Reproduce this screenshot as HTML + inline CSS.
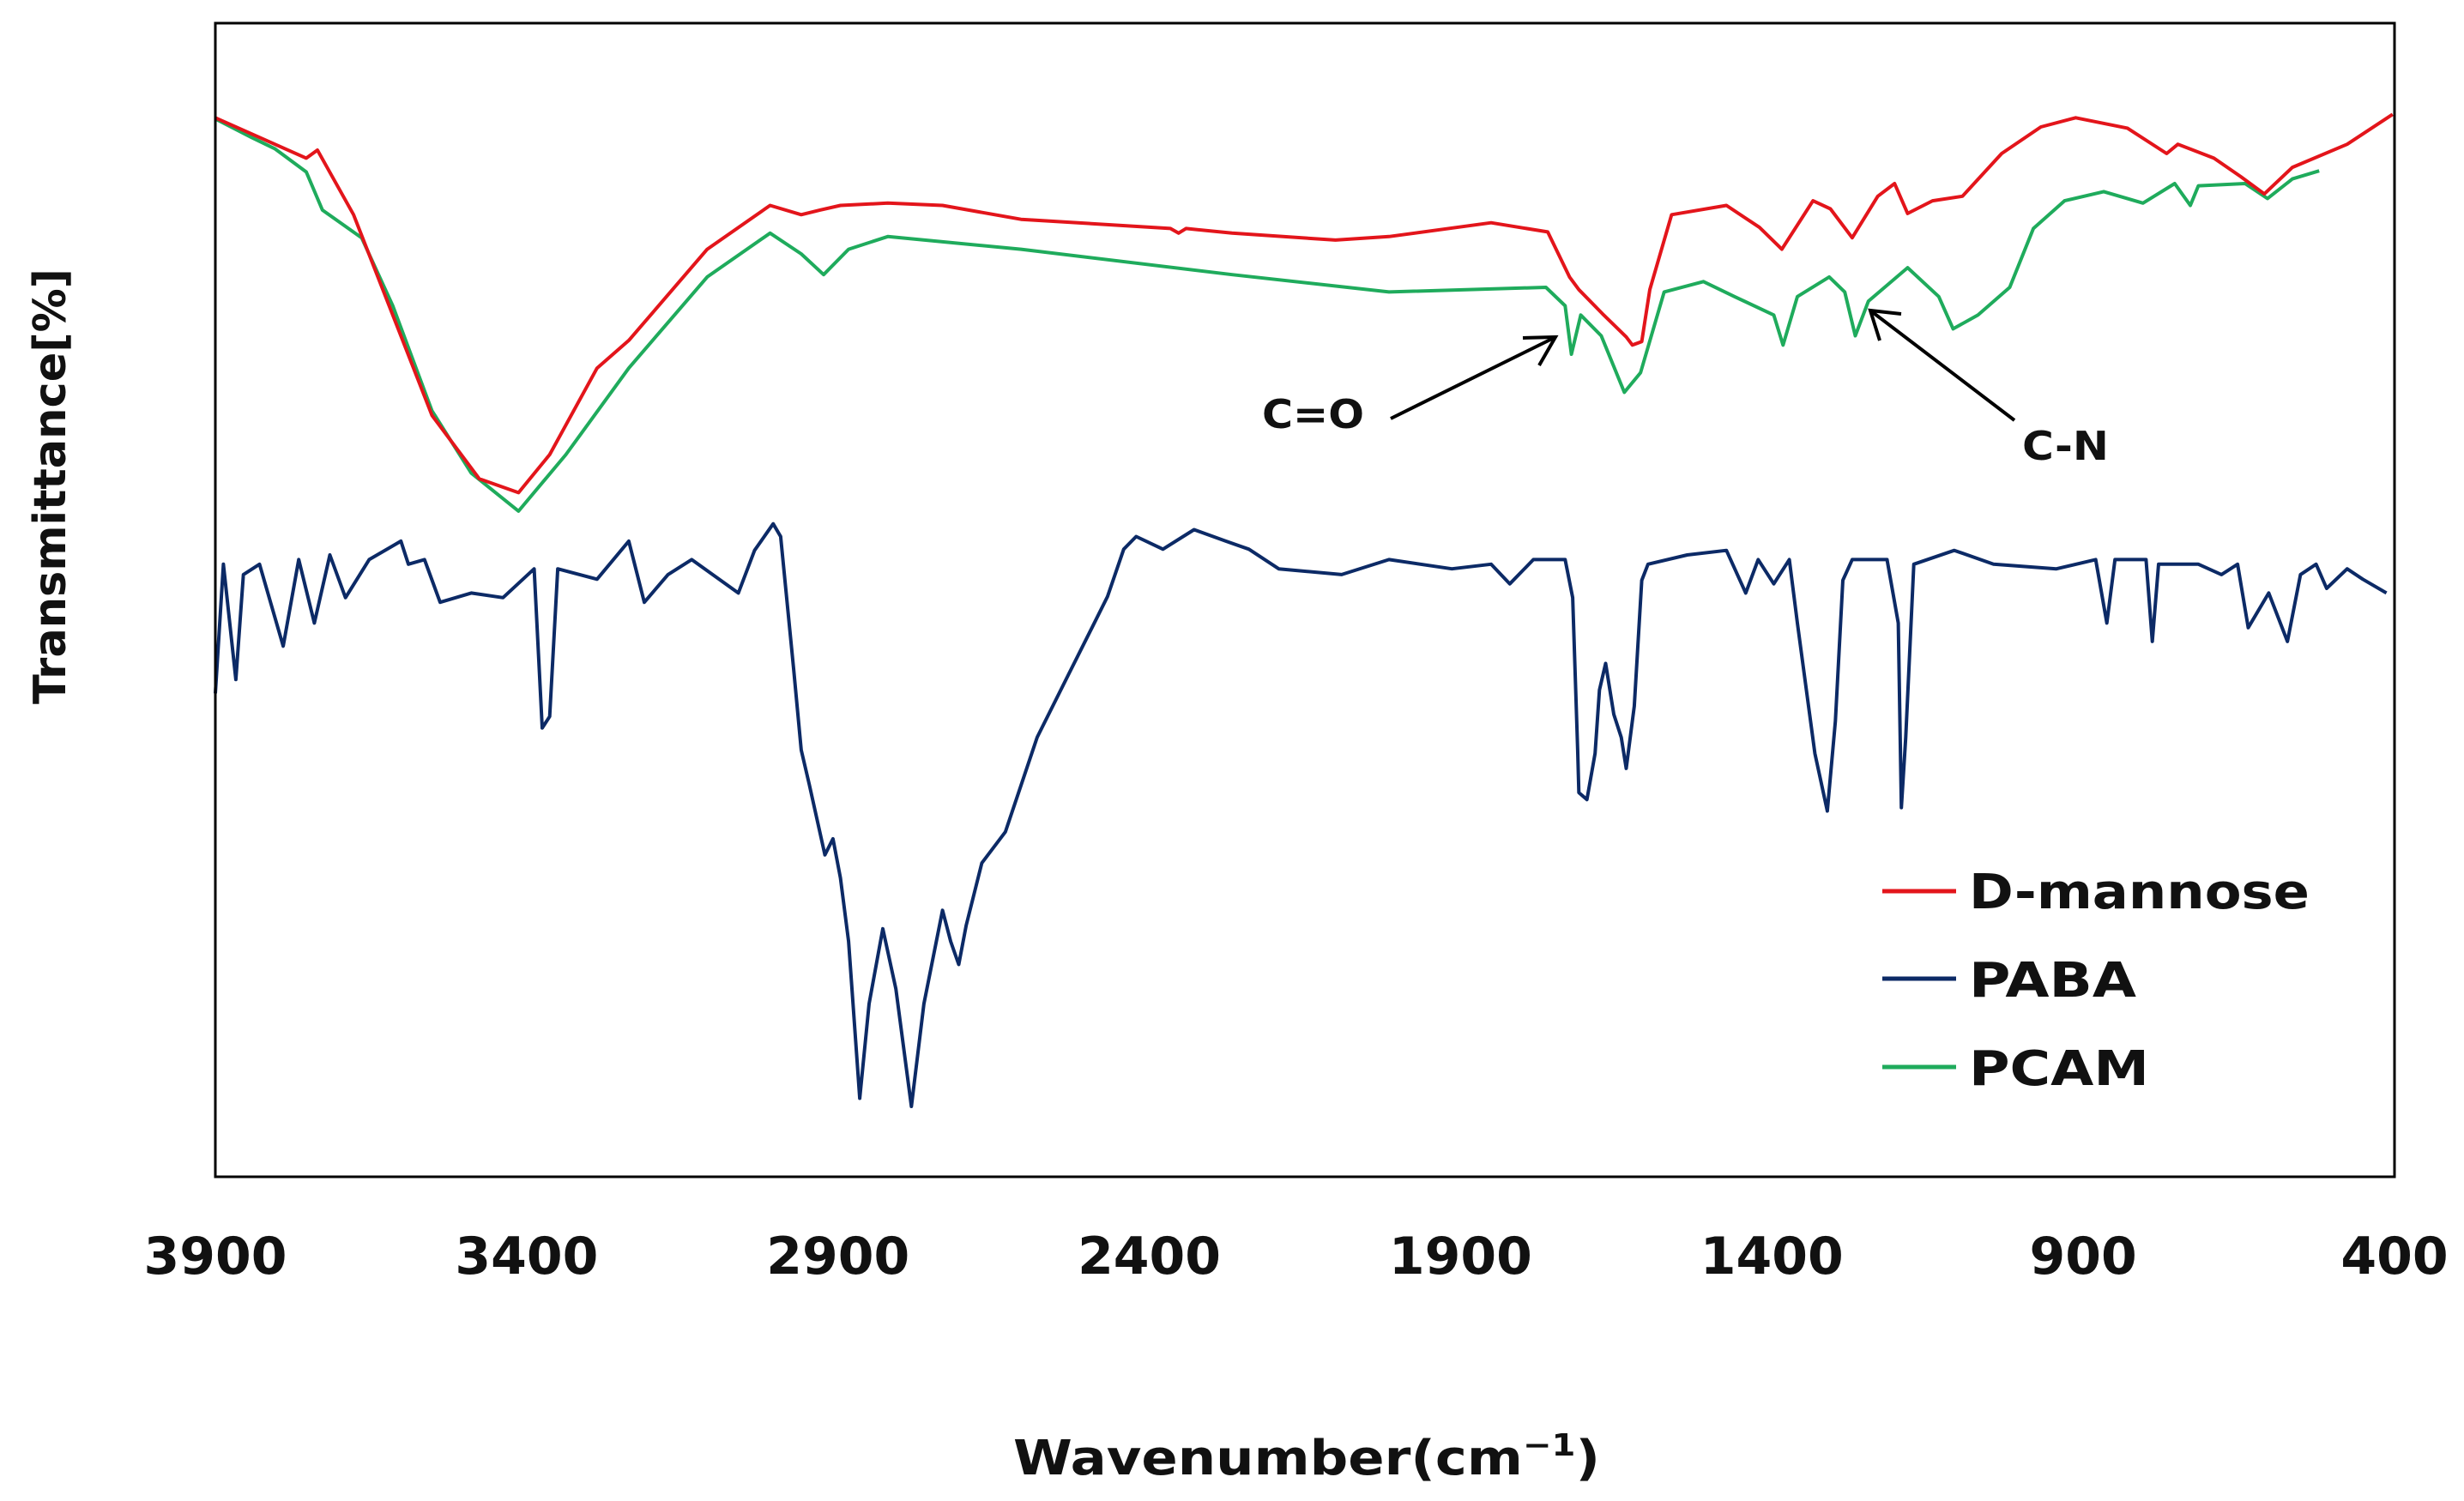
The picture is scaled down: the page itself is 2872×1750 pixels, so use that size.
<!DOCTYPE html>
<html><head><meta charset="utf-8"><style>
html,body{margin:0;padding:0;background:#fff;}
svg{display:block;}
text{font-family:"DejaVu Sans","Liberation Sans",sans-serif;font-weight:bold;fill:#111;}
</style></head>
<body>
<svg id="chart" width="2872" height="1750" viewBox="0 0 2872 1750" xmlns="http://www.w3.org/2000/svg">
<rect x="0" y="0" width="2872" height="1750" fill="#fff"/>
<g id="series"></g>
<rect x="251" y="27" width="2540" height="1345" fill="none" stroke="#000" stroke-width="3"/>
<g id="ticks"></g>
<text x="59" y="567" transform="rotate(-90 59 567)" text-anchor="middle" dominant-baseline="central" font-size="52" textLength="508" lengthAdjust="spacingAndGlyphs">Transmittance[%]</text>
<text x="1523" y="1719" text-anchor="middle" font-size="56" textLength="684" lengthAdjust="spacingAndGlyphs">Wavenumber(cm<tspan font-size="36" dy="-22">−1</tspan><tspan dy="22">)</tspan></text>
<g>
<text x="1471" y="499" font-size="46" textLength="119" lengthAdjust="spacingAndGlyphs">C=O</text>
<line x1="1621" y1="488" x2="1813" y2="393" stroke="#000" stroke-width="4"/>
<polyline points="1775,394 1813,393 1794,426" fill="none" stroke="#000" stroke-width="4"/>
</g>
<g>
<text x="2357" y="536" font-size="46" textLength="101" lengthAdjust="spacingAndGlyphs">C-N</text>
<line x1="2348" y1="490" x2="2180" y2="362" stroke="#000" stroke-width="4"/>
<polyline points="2191,397 2180,362 2216,366" fill="none" stroke="#000" stroke-width="4"/>
</g>
<g>
<line x1="2194" y1="1039" x2="2280" y2="1039" stroke="#e3151b" stroke-width="5"/>
<text x="2295" y="1059" font-size="56" textLength="397" lengthAdjust="spacingAndGlyphs">D-mannose</text>
<line x1="2194" y1="1141" x2="2280" y2="1141" stroke="#0c2a66" stroke-width="5"/>
<text x="2295" y="1162" font-size="56" textLength="195" lengthAdjust="spacingAndGlyphs">PABA</text>
<line x1="2194" y1="1244" x2="2280" y2="1244" stroke="#1fab5c" stroke-width="5"/>
<text x="2295" y="1265" font-size="56" textLength="210" lengthAdjust="spacingAndGlyphs">PCAM</text>
</g>
</svg>
<script>
const xTicks = [3900, 3400, 2900, 2400, 1900, 1400, 900, 400];
const xTickLabels = ["3900", "3400", "2900", "2400", "1900", "1400", "900", "400"];
const mannoseWn = [3900,3754,3736,3678,3552,3476,3413,3363,3287,3236,3110,3009,2959,2929,2896,2820,2732,2606,2366,2353,2341,2267,2101,2015,1851,1760,1725,1710,1672,1634,1624,1609,1596,1561,1473,1420,1384,1334,1306,1271,1230,1203,1182,1142,1094,1031,968,912,829,766,748,690,647,609,564,476,403];
const mannoseT = [91.8,88.3,89.0,83.4,66.0,60.5,59.3,62.6,70.1,72.5,80.4,84.2,83.4,83.8,84.2,84.4,84.2,83.0,82.2,81.8,82.2,81.8,81.2,81.5,82.7,81.9,78.0,76.9,74.8,72.8,72.1,72.4,76.9,83.4,84.2,82.3,80.4,84.6,83.9,81.4,85.0,86.1,83.5,84.6,85.0,88.7,91.0,91.8,90.9,88.7,89.5,88.3,86.7,85.2,87.5,89.5,92.1];
const pcamWn = [3900,3842,3804,3754,3728,3665,3615,3552,3489,3413,3337,3236,3110,3009,2959,2923,2883,2820,2606,2267,2015,1763,1732,1722,1707,1674,1637,1611,1573,1510,1460,1397,1382,1359,1308,1283,1266,1245,1182,1132,1109,1069,1018,980,930,867,804,753,728,715,640,604,564,521];
const pcamT = [91.7,90.1,89.1,87.1,83.8,81.4,75.5,66.4,61.0,57.7,62.6,70.1,78.0,81.8,80.0,78.2,80.4,81.5,80.4,78.2,76.7,77.1,75.5,71.3,74.7,72.9,68.0,69.7,76.7,77.6,76.3,74.7,72.1,76.3,78.0,76.7,72.9,75.9,78.8,76.3,73.5,74.7,77.1,82.2,84.6,85.4,84.4,86.1,84.2,85.9,86.1,84.8,86.5,87.2];
const pabaWn = [3900,3887,3867,3855,3829,3791,3766,3741,3716,3691,3653,3602,3590,3564,3539,3489,3438,3388,3375,3363,3350,3287,3236,3211,3173,3135,3060,3034,3004,2992,2971,2959,2946,2921,2908,2896,2883,2865,2850,2828,2807,2782,2762,2732,2719,2706,2694,2669,2631,2580,2530,2492,2467,2441,2421,2378,2328,2277,2240,2192,2091,2015,1914,1851,1821,1783,1732,1720,1712,1710,1697,1684,1677,1667,1654,1642,1634,1621,1609,1599,1536,1473,1442,1422,1397,1372,1359,1331,1311,1298,1286,1271,1215,1197,1192,1185,1172,1107,1044,943,880,862,849,799,789,779,715,678,652,635,602,572,551,526,509,476,451,413];
const pabaT = [41.9,53.1,43.1,52.2,53.1,46.0,53.5,48.0,53.9,50.2,53.5,55.1,53.1,53.5,49.8,50.6,50.2,52.7,38.9,39.9,52.7,51.8,55.1,49.8,52.2,53.5,50.6,54.3,56.6,55.5,43.9,37.0,34.0,27.9,29.3,25.9,20.4,6.8,15.0,21.5,16.3,6.1,15.0,23.1,20.4,18.4,21.8,27.2,29.9,38.1,43.5,47.6,50.3,54.4,55.5,54.4,56.1,55.1,54.4,52.7,52.2,53.5,52.7,53.1,51.4,53.5,53.5,50.2,37.0,33.3,32.7,36.7,42.2,44.5,40.1,38.1,35.4,40.8,51.7,53.1,53.9,54.3,50.6,53.5,51.4,53.5,48.0,36.7,31.7,39.5,51.7,53.5,53.5,48.0,32.0,38.1,53.1,54.3,53.1,52.7,53.5,48.0,53.5,53.5,46.4,53.1,53.1,52.2,53.1,47.6,50.6,46.4,52.2,53.1,51.0,52.7,51.8,50.6];

const NS = "http://www.w3.org/2000/svg";
const X0 = 251, X1 = 2791, Y0 = 1372, Y1 = 27;
function xScale(wn) { return X0 + (3900 - wn) / 3500 * (X1 - X0); }
function yScale(t) { return Y0 - t / 100 * (Y0 - Y1); }

const seriesG = document.getElementById("series");
function drawSeries(wn, t, color, name) {
  const pts = wn.map((w, i) => xScale(w).toFixed(1) + "," + yScale(t[i]).toFixed(1)).join(" ");
  const pl = document.createElementNS(NS, "polyline");
  pl.setAttribute("points", pts);
  pl.setAttribute("fill", "none");
  pl.setAttribute("stroke", color);
  pl.setAttribute("stroke-width", "4");
  pl.setAttribute("stroke-linejoin", "round");
  
  
  seriesG.appendChild(pl);
}
drawSeries(pabaWn, pabaT, "#0c2a66", "series-paba");
drawSeries(pcamWn, pcamT, "#1fab5c", "series-pcam");
drawSeries(mannoseWn, mannoseT, "#e3151b", "series-d-mannose");

const ticksG = document.getElementById("ticks");
xTicks.forEach((v, i) => {
  const tx = document.createElementNS(NS, "text");
  tx.setAttribute("x", xScale(v));
  tx.setAttribute("y", 1485);
  tx.setAttribute("text-anchor", "middle");
  tx.setAttribute("font-size", "60");
  tx.textContent = xTickLabels[i];
  
  
  ticksG.appendChild(tx);
});
</script>
</body></html>
